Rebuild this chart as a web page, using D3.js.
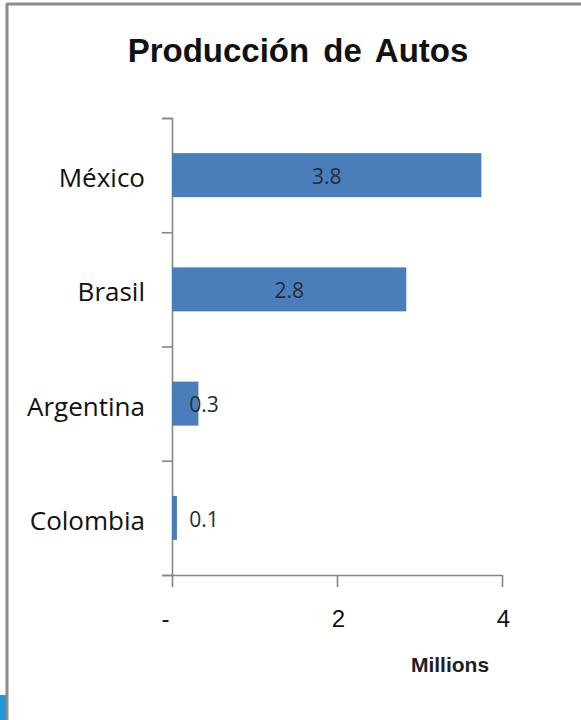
<!DOCTYPE html>
<html>
<head>
<meta charset="utf-8">
<script src="https://cdn.jsdelivr.net/npm/d3@7"></script>
<style>
  body { margin: 0; background: #fff; }
</style>
</head>
<body>
<div id="chart"></div>
<script>
// data
var countries = ["México", "Brasil", "Argentina", "Colombia"];
var production = [3.75, 2.84, 0.32, 0.06];
var valueLabels = ["3.8", "2.8", "0.3", "0.1"];
var xTicks = [0, 2, 4];

var width = 581, height = 720;
var plotLeft = 172, plotRight = 502, plotTop = 118, plotBottom = 575;

var svg = d3.select("#chart").append("svg")
    .attr("width", width)
    .attr("height", height);

// frame like the screenshot
svg.append("rect").attr("x", 0).attr("y", 0).attr("width", width).attr("height", height).attr("fill", "#fff");
svg.append("line").attr("x1", 7).attr("x2", width).attr("y1", 4).attr("y2", 4)
    .attr("stroke", "#8c8c8c").attr("stroke-width", 3);
svg.append("line").attr("x1", 7).attr("x2", 7).attr("y1", 3).attr("y2", height)
    .attr("stroke", "#8c8c8c").attr("stroke-width", 3);
svg.append("rect").attr("x", 0).attr("y", 695).attr("width", 6).attr("height", 25).attr("fill", "#1f9ad6");

// title
svg.append("text")
    .attr("x", 298)
    .attr("y", 62)
    .attr("text-anchor", "middle")
    .attr("font-family", "Liberation Sans, Arial, sans-serif")
    .attr("font-weight", "bold")
    .attr("font-size", "33px")
    .attr("word-spacing", "5px")
    .attr("fill", "#111")
    .text("Producción de Autos");

// scales
var x = d3.scaleLinear()
    .domain([0, 4])
    .range([plotLeft, plotRight]);

var y = d3.scaleBand()
    .domain(countries)
    .range([plotTop, plotBottom])
    .paddingInner(0.615)
    .paddingOuter(0.3075);

var yTick = d3.scaleLinear()
    .domain([0, countries.length])
    .range([plotTop, plotBottom]);

// y axis (category boundaries)
var gy = svg.append("g")
    .attr("transform", "translate(" + plotLeft + ",0)")
    .call(d3.axisLeft(yTick).ticks(countries.length).tickFormat("").tickSize(10).tickSizeOuter(10));
gy.selectAll("path, line").attr("stroke", "#858585").attr("stroke-width", 1.6);

// x axis
var gx = svg.append("g")
    .attr("transform", "translate(0," + plotBottom + ")")
    .call(d3.axisBottom(x).tickValues(xTicks).tickSize(12).tickSizeOuter(0)
        .tickFormat(function(d) { return d === 0 ? "-" : d; }));
gx.selectAll("path, line").attr("stroke", "#858585").attr("stroke-width", 1.6);
gx.selectAll("text")
    .attr("y", 52)
    .attr("dy", null)
    .attr("dx", function(d) { return d === 0 ? -7 : 1; })
    .attr("font-family", "Liberation Sans, Arial, sans-serif")
    .attr("font-size", "24px")
    .attr("fill", "#111");

svg.append("text")
    .attr("x", 450)
    .attr("y", 672)
    .attr("text-anchor", "middle")
    .attr("font-family", "Liberation Sans, Arial, sans-serif")
    .attr("font-weight", "bold")
    .attr("font-size", "21px")
    .attr("fill", "#1e1e2a")
    .text("Millions");

// category labels
svg.selectAll(".cat")
    .data(countries)
    .join("text")
    .attr("class", "cat")
    .attr("x", 145)
    .attr("y", function(d) { return y(d) + y.bandwidth() / 2; })
    .attr("dy", "0.46em")
    .attr("text-anchor", "end")
    .attr("font-family", "Open Sans, sans-serif")
    .attr("font-size", "26px")
    .attr("fill", "#111")
    .text(function(d) { return d; });

// bars
svg.selectAll(".bar")
    .data(production)
    .join("rect")
    .attr("class", "bar")
    .attr("x", x(0))
    .attr("y", function(d, i) { return y(countries[i]); })
    .attr("width", function(d) { return x(d) - x(0); })
    .attr("height", y.bandwidth())
    .attr("fill", "#4a7ebb");

// value labels (centered, pushed right when bar is too short)
svg.selectAll(".val")
    .data(production)
    .join("text")
    .attr("class", "val")
    .attr("x", function(d) { return Math.max(x(d / 2), x(0) + 32); })
    .attr("y", function(d, i) { return y(countries[i]) + y.bandwidth() / 2; })
    .attr("dy", "0.42em")
    .attr("text-anchor", "middle")
    .attr("font-family", "Open Sans, sans-serif")
    .attr("font-size", "21px")
    .attr("fill", "#262d38")
    .text(function(d, i) { return valueLabels[i]; });
</script>
</body>
</html>
